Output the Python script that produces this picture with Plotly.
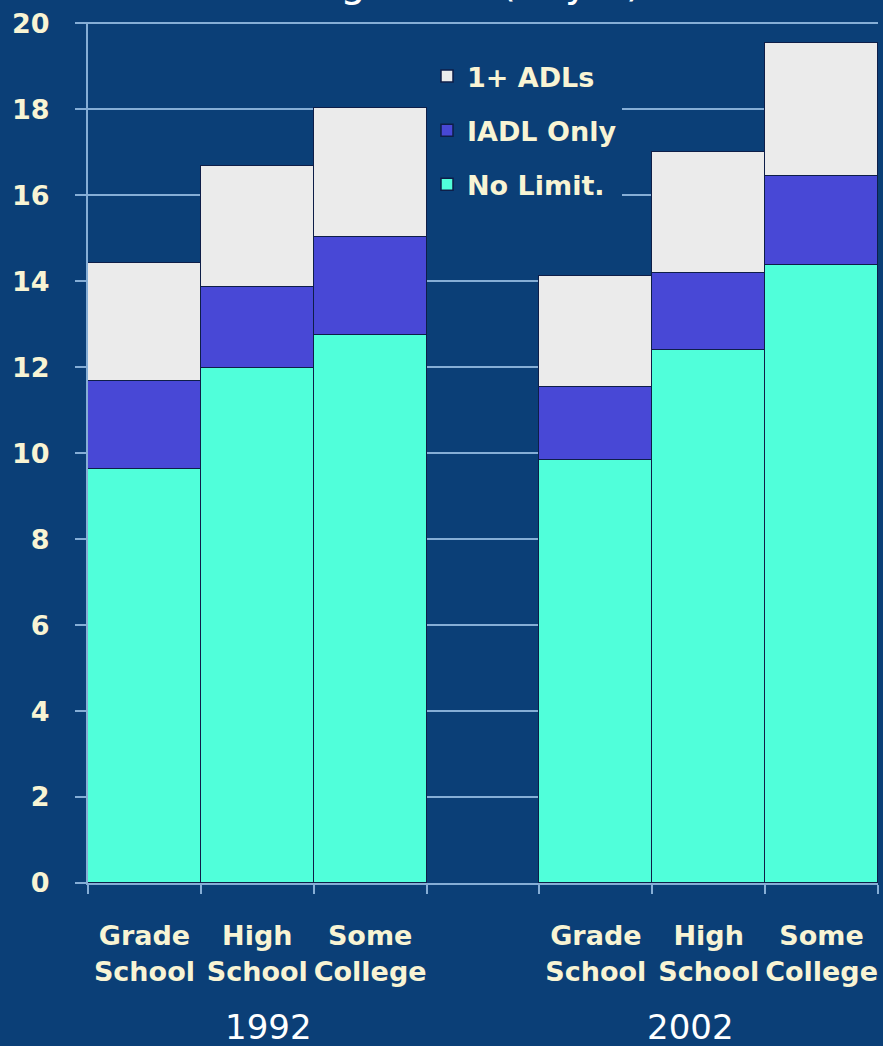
import plotly.graph_objects as go

# Education groups, two survey years (slot 3 is left empty as a spacer)
categories = ["Grade<br>School", "High<br>School", "Some<br>College"]
years = ["1992", "2002"]
slot_pos = [0, 1, 2, 4, 5, 6]
tick_text = categories + categories

# Cumulative heights read as years of life expectancy
no_limit = [9.62, 11.98, 12.76, 9.83, 12.40, 14.37]
iadl_top = [11.67, 13.87, 15.03, 11.54, 14.20, 16.44]
total_top = [14.43, 16.69, 18.03, 14.13, 17.00, 19.54]

iadl_only = [round(t - n, 2) for t, n in zip(iadl_top, no_limit)]
one_plus_adl = [round(t - i, 2) for t, i in zip(total_top, iadl_top)]

BG = "#0B3F77"
GRID = "#86AED6"
LABEL = "#F8F4D4"
EDGE = "#0E1E48"
FONT = "DejaVu Sans"

# (name, values, colour, position in legend from the top)
series = [
    ("No Limit.", no_limit, "#50FFDA", 3),
    ("IADL Only", iadl_only, "#4848D6", 2),
    ("1+ ADLs", one_plus_adl, "#EBEBEB", 1),
]

fig = go.Figure()
for name, vals, color, rank in series:
    fig.add_trace(go.Bar(
        x=slot_pos, y=vals, name=name, width=1.0,
        marker=dict(color=color, line=dict(color=EDGE, width=1.5)),
        legendgroup=name, legendrank=rank,
    ))

fig.update_layout(
    barmode="stack",
    bargap=0,
    width=883, height=1046,
    margin=dict(l=88, r=5, t=22, b=163),
    paper_bgcolor=BG,
    plot_bgcolor=BG,
    font=dict(family=FONT, color=LABEL),
    showlegend=True,
    legend=dict(
        x=(427 - 88) / 790, xanchor="left",
        y=1 - (52 - 22) / 861, yanchor="top",
        bgcolor=BG, borderwidth=0,
        font=dict(family=FONT, size=27, color=LABEL, weight="bold"),
        traceorder="grouped",
        tracegroupgap=16,
    ),
    xaxis=dict(
        range=[-0.5, 6.5],
        tickmode="array", tickvals=slot_pos, ticktext=tick_text,
        ticks="", ticklen=0,
        tickfont=dict(family=FONT, size=27, color=LABEL, weight="bold"),
        ticklabelstandoff=28,
        showgrid=False, zeroline=False,
        showline=True, linecolor=GRID, linewidth=2,
        minor=dict(tickmode="linear", tick0=-0.5, dtick=1, ticks="outside",
                   ticklen=9, tickcolor=GRID, tickwidth=2, showgrid=False),
    ),
    yaxis=dict(
        range=[0, 20.03], tickmode="linear", tick0=0, dtick=2,
        ticks="outside", ticklen=11, tickcolor=GRID, tickwidth=2,
        tickfont=dict(family=FONT, size=27, color=LABEL, weight="bold"),
        ticklabelstandoff=20,
        showgrid=True, gridcolor=GRID, gridwidth=2,
        zeroline=False,
        showline=True, linecolor=GRID, linewidth=2,
    ),
)

# Year captions under each group of bars
for xpos, label in [(1.10, years[0]), (4.84, years[1])]:
    fig.add_annotation(
        x=xpos, xref="x", y=(883 - 1027) / 861, yref="paper",
        text=label, showarrow=False, yanchor="middle",
        font=dict(family=FONT, size=34, color="white"),
    )

# Chart heading sits at the very top edge of the page
fig.add_annotation(
    x=(477 - 88) / 790, xref="paper", y=1 + (22 - 7) / 861, yref="paper",
    text="Age 65+ (in yrs)", showarrow=False, yanchor="bottom",
    font=dict(family=FONT, size=40, color="white"),
)

fig.write_html("out.html")
